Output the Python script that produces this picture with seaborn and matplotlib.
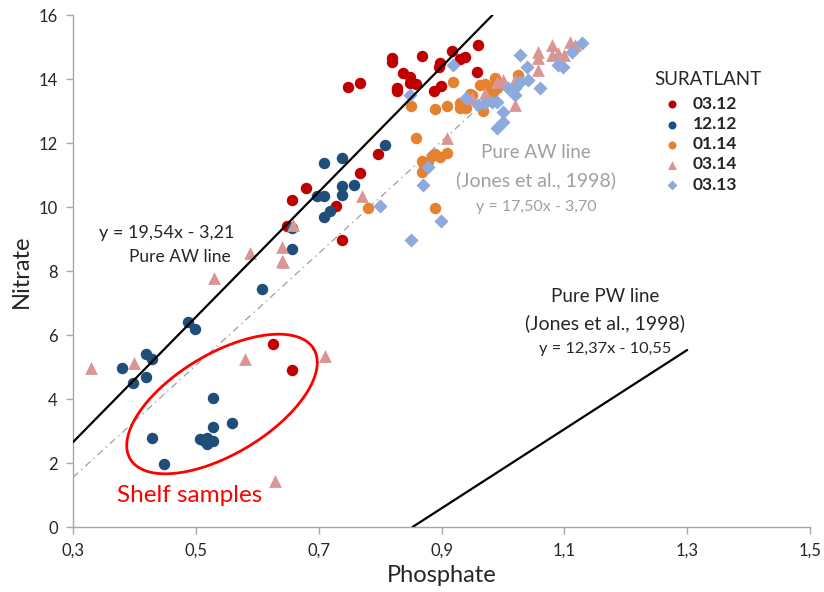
import numpy as np
import pandas as pd
import matplotlib
matplotlib.use("Agg")
import matplotlib.pyplot as plt
import seaborn as sns

# ---------------- data ----------------
red_x = [0.626, 0.657, 0.738, 0.648, 0.728, 0.657, 0.679, 0.767, 0.797, 0.748, 0.767, 0.819, 0.819, 0.868,
         0.917, 0.837, 0.849, 0.849, 0.858, 0.828, 0.828, 0.898, 0.896, 0.930, 0.938, 0.888, 0.899, 0.959, 0.958]
red_y = [5.72, 4.90, 8.96, 9.42, 10.02, 10.23, 10.60, 11.07, 11.65, 13.75, 13.87, 14.66, 14.53, 14.72,
         14.86, 14.19, 14.06, 13.88, 13.83, 13.72, 13.63, 14.50, 14.38, 14.63, 14.69, 13.63, 13.78, 15.05, 14.22]

navy_x = [0.608, 0.487, 0.499, 0.419, 0.429, 0.380, 0.419, 0.398, 0.528, 0.559, 0.528, 0.429, 0.507, 0.518,
          0.528, 0.518, 0.512, 0.448, 0.808, 0.738, 0.709, 0.738, 0.757, 0.697, 0.709, 0.738, 0.718, 0.709,
          0.657, 0.657]
navy_y = [7.43, 6.40, 6.20, 5.42, 5.24, 4.98, 4.68, 4.50, 4.02, 3.25, 3.12, 2.77, 2.74, 2.78,
          2.70, 2.58, 2.72, 1.98, 11.95, 11.53, 11.36, 10.66, 10.70, 10.33, 10.33, 10.36, 9.88, 9.68,
          9.35, 8.68]

orange_x = [0.780, 0.889, 0.868, 0.868, 0.878, 0.889, 0.909, 0.898, 0.858, 0.919, 0.850, 0.889, 0.909, 0.930,
            0.930, 0.940, 0.950, 0.946, 0.968, 0.971, 0.979, 0.987, 0.984, 0.976, 1.025, 0.963, 0.990, 0.884,
            0.872]
orange_y = [9.97, 9.97, 11.09, 11.43, 11.41, 11.66, 11.70, 11.56, 12.16, 13.90, 13.16, 13.06, 13.16, 13.25,
            13.09, 13.10, 13.50, 13.53, 13.00, 13.84, 13.75, 14.03, 13.59, 13.50, 14.13, 13.81, 13.72, 11.60,
            11.30]

tri_x = [0.329, 0.399, 0.580, 0.710, 0.629, 0.530, 0.642, 0.640, 0.588, 0.658, 0.770, 0.909, 0.950, 0.971,
         0.990, 1.000, 1.020, 1.020, 1.057, 1.057, 1.057, 1.080, 1.080, 1.090, 1.100, 1.109, 1.117, 0.640]
tri_y = [4.98, 5.14, 5.24, 5.33, 1.43, 7.77, 8.28, 8.30, 8.57, 9.45, 10.33, 12.15, 13.42, 13.56,
         13.90, 13.97, 13.97, 13.20, 14.66, 14.84, 14.28, 15.06, 14.75, 14.80, 14.75, 15.16, 15.06, 8.75]

dia_x = [0.849, 0.919, 0.800, 0.870, 0.878, 0.850, 0.899, 0.990, 1.000, 1.000, 0.971, 0.982, 0.990, 1.008,
         1.020, 1.020, 1.028, 1.041, 1.028, 1.039, 1.060, 1.090, 1.098, 1.112, 1.129, 0.960, 0.940]
dia_y = [13.50, 14.44, 10.02, 10.69, 11.25, 8.98, 9.55, 12.47, 12.66, 12.97, 13.25, 13.28, 13.28, 13.72,
         13.72, 13.50, 13.90, 13.97, 14.75, 14.38, 13.72, 14.44, 14.38, 14.84, 15.13, 13.20, 13.40]

campaigns = ["03.12", "12.12", "01.14", "03.14", "03.13"]
colors = ["#C00000", "#1F4E79", "#E5822F", "#D99694", "#8EA9DB"]
marker_styles = ["o", "o", "o", "^", "D"]
marker_area = [68, 68, 68, 85, 52]

# lines: slope, intercept, x-start, x-end
line_slope = [19.54, 17.50, 12.37]
line_inter = [-3.21, -3.70, -10.55]
line_x0 = [0.30, 0.30, 0.853]
line_x1 = [0.983, 0.985, 1.30]

x_ticks = [0.3, 0.5, 0.7, 0.9, 1.1, 1.3, 1.5]
x_ticklabels = ["0,3", "0,5", "0,7", "0,9", "1,1", "1,3", "1,5"]
y_ticks = [0, 2, 4, 6, 8, 10, 12, 14, 16]

# ---------------- frame ----------------
xs = [red_x, navy_x, orange_x, tri_x, dia_x]
ys = [red_y, navy_y, orange_y, tri_y, dia_y]
df = pd.concat([pd.DataFrame({"Phosphate": x, "Nitrate": y, "camp": c})
                for x, y, c in zip(xs, ys, campaigns)], ignore_index=True)

sns.set_theme(style="white")
FONT = ["Lato", "DejaVu Sans"]
plt.rcParams["font.family"] = FONT

fig = plt.figure(figsize=(8.24, 5.92), dpi=100)
ax = fig.add_axes([73 / 824, 1 - 527 / 592, (810 - 73) / 824, (527 - 15) / 592])

# lines
def yline(i, x):
    return line_slope[i] * x + line_inter[i]

ax.plot([line_x0[0], line_x1[0]], [yline(0, line_x0[0]), yline(0, line_x1[0])],
        color="black", lw=1.6, zorder=3)
ax.plot([line_x0[1], line_x1[1]], [yline(1, line_x0[1]), yline(1, line_x1[1])],
        color="#A6A6A6", lw=1.0, ls=(0, (5, 3, 1, 3)), zorder=1)
ax.plot([line_x0[2], line_x1[2]], [yline(2, line_x0[2]), yline(2, line_x1[2])],
        color="black", lw=1.6, zorder=3)

for c, col, m, s in zip(campaigns, colors, marker_styles, marker_area):
    sns.scatterplot(data=df[df["camp"] == c], x="Phosphate", y="Nitrate",
                    color=col, marker=m, s=s, linewidth=0, ax=ax, zorder=2, label=c)

ax.set_xlim(0.3, 1.5)
ax.set_ylim(0, 16)
ax.set_xticks(x_ticks)
ax.set_xticklabels(x_ticklabels)
ax.set_yticks(y_ticks)
for s in ["top", "right"]:
    ax.spines[s].set_visible(False)
for s in ["left", "bottom"]:
    ax.spines[s].set_color("#A6A6A6")
    ax.spines[s].set_linewidth(1.0)
ax.tick_params(axis="both", which="both", direction="out", length=5, width=1.0,
               color="#A6A6A6", labelsize=12, labelcolor="#262626", bottom=True, left=True, pad=6)
ax.set_xlabel("Phosphate", fontsize=17, color="#262626", labelpad=5)
ax.set_ylabel("Nitrate", fontsize=17, color="#262626", labelpad=5)

# legend
h, l = ax.get_legend_handles_labels()
leg = ax.legend(h, l, title="SURATLANT", loc="upper left", bbox_to_anchor=(0.78, 0.905),
                frameon=False, fontsize=12.5, title_fontsize=13.5, markerscale=0.7,
                handletextpad=0.2, labelspacing=0.24, borderaxespad=0)
for t in leg.get_texts():
    t.set_fontweight("bold")
    t.set_color("#262626")
leg.get_title().set_color("#262626")
leg._legend_box.align = "left"
leg._legend_box.sep = 6

# annotations
ax.text(0.453, 9.19, "y = 19,54x - 3,21", ha="center", va="center", fontsize=13, color="#262626")
ax.text(0.474, 8.44, "Pure AW line", ha="center", va="center", fontsize=12.5, color="#262626")
ax.text(1.054, 11.69, "Pure AW line", ha="center", va="center", fontsize=13.5, color="#A0A0A0")
ax.text(1.054, 10.84, "(Jones et al., 1998)", ha="center", va="center", fontsize=14, color="#A0A0A0")
ax.text(1.054, 10.0, "y = 17,50x - 3,70", ha="center", va="center", fontsize=11.5, color="#A0A0A0")
ax.text(1.166, 7.19, "Pure PW line", ha="center", va="center", fontsize=13.5, color="#262626")
ax.text(1.166, 6.38, "(Jones et al., 1998)", ha="center", va="center", fontsize=14, color="#262626")
ax.text(1.166, 5.56, "y = 12,37x - 10,55", ha="center", va="center", fontsize=11.8, color="#262626")
ax.text(0.49, 0.97, "Shelf samples", ha="center", va="center", fontsize=17.5, color="#FF0000")

# shelf ellipse (defined in pixel space, converted to data)
cx, cy, a, b, th = 222.0, 404.0, 107.0, 50.0, np.deg2rad(31)
t = np.linspace(0, 2 * np.pi, 300)
px = cx + a * np.cos(t) * np.cos(th) - b * np.sin(t) * np.sin(th)
py = cy - (a * np.cos(t) * np.sin(th) + b * np.sin(t) * np.cos(th))
ex = 0.3 + (px - 73) / ((810 - 73) / 1.2)
ey = (527 - py) / 32.0
ax.plot(ex, ey, color="#FF0000", lw=2.0, zorder=4)

fig.savefig("out.png", dpi=100)
